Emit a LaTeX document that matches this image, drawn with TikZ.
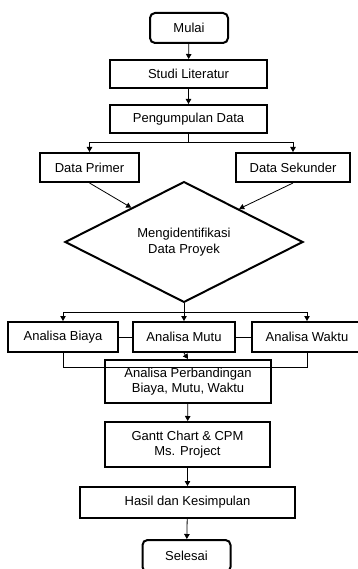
\documentclass[tikz,border=0pt]{standalone}
\usepackage{fontspec}
\setmainfont{Liberation Sans}
\usetikzlibrary{shapes.geometric,arrows.meta,calc}

\begin{document}
\begin{tikzpicture}[x=1pt, y=-1pt,
        box/.style = {draw, line width=2pt, inner sep=0pt, align=center,
                      font=\fontsize{13}{15.5}\selectfont},
        term/.style = {box, rounded corners=5pt},
        line/.style = {line width=0.8pt},
        arr/.style = {line, -{Triangle[length=5pt,width=5.5pt]}}]
            \useasboundingbox (0,0) rectangle (357,569);
            % draw the steps top to bottom
                \node[term, minimum width=78pt, minimum height=30pt] (mulai) at (189, 28) {Mulai};
                \node[box, minimum width=157pt, minimum height=28pt] (studi) at (188.5, 74) {Studi Literatur};
                \node[box, minimum width=157pt, minimum height=28pt] (kumpul) at (188.5, 119) {Pengumpulan Data};
                \node[box, minimum width=99pt, minimum height=29pt] (primer) at (89.5, 167.5) {Data Primer};
                \node[box, minimum width=114pt, minimum height=29pt] (sekunder) at (293, 167.5) {Data Sekunder};
                \node[box, diamond, minimum width=238pt, minimum height=117pt] (proyek) at (184, 242) {Mengidentifikasi\\Data Proyek};

                \node[box, minimum width=110pt, minimum height=30pt] (biaya) at (63, 337) {Analisa Biaya};
                \node[box, minimum width=102pt, minimum height=30pt] (mutu) at (184, 337) {Analisa Mutu};
                \node[box, minimum width=110pt, minimum height=30pt] (waktu) at (307, 337) {Analisa Waktu};

                \node[box, minimum width=166pt, minimum height=43pt] (banding) at (188, 381.5) {Analisa Perbandingan\\Biaya, Mutu, Waktu};
                \node[box, minimum width=165pt, minimum height=45pt] (gantt) at (187.5, 444.5) {Gantt Chart \& CPM\\Ms. Project};
                \node[box, minimum width=215pt, minimum height=31pt] (hasil) at (187.5, 502.5) {Hasil dan Kesimpulan};
                \node[term, minimum width=88pt, minimum height=32pt] (selesai) at (186.5, 556) {Selesai};

            % draw connectors
                \draw[arr] (mulai) -- (studi);
                \draw[arr] (studi) -- (kumpul);
                \draw[line] (kumpul.south) -- ++(0, 8) coordinate (split1);
                \draw[arr] (split1) -| (primer.north);
                \draw[arr] (split1) -| (sekunder.north);
                \draw[arr] (primer.south) -- ($(proyek.north)!0.44!(proyek.west)$);
                \draw[arr] (sekunder.south) -- ($(proyek.north)!0.46!(proyek.east)$);

                \draw[line] (proyek.south) -- ++(0, 9) coordinate (split2);
                \draw[arr] (split2) -| (biaya.north);
                \draw[arr] (split2) -- (mutu.north);
                \draw[arr] (split2) -| (waktu.north);
                \draw[line] (biaya) -- (mutu);
                \draw[line] (mutu) -- (waktu);
                \draw[line] (biaya.south) -- ++(0, 14) -| (waktu.south);
                \draw[arr] (mutu.south) -- (banding.north);

                \draw[arr] (banding) -- (gantt);
                \draw[arr] (gantt) -- (hasil);
                \draw[arr] (hasil) -- (selesai);
\end{tikzpicture}
\end{document}
